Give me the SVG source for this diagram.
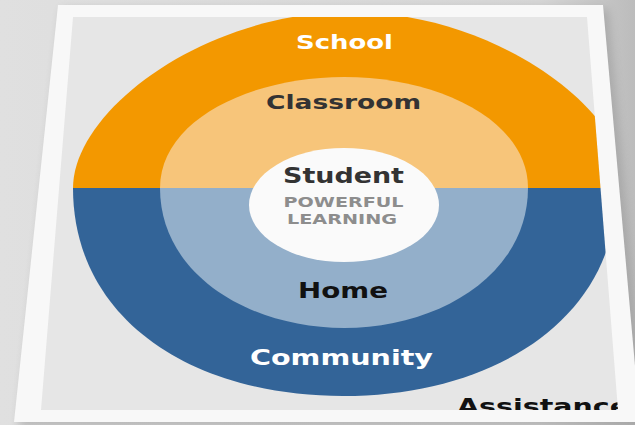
<svg xmlns="http://www.w3.org/2000/svg" width="635" height="425" viewBox="0 0 635 425">
  <defs>
    <linearGradient id="bg" x1="0" y1="0" x2="1" y2="0">
      <stop offset="0" stop-color="#e0e0e0"/>
      <stop offset="0.85" stop-color="#d6d6d6"/>
      <stop offset="1" stop-color="#bcbcbc"/>
    </linearGradient>
    <filter id="shadow" x="-10%" y="-10%" width="120%" height="120%">
      <feGaussianBlur stdDeviation="5"/>
    </filter>
    <clipPath id="panelClip">
      <polygon points="73,17 587,17 618,410 41,410"/>
    </clipPath>
    <clipPath id="upper">
      <rect x="0" y="0" width="635" height="188"/>
    </clipPath>
    <clipPath id="lower">
      <rect x="0" y="188" width="635" height="237"/>
    </clipPath>
    <style>
      .t { font-family: "DejaVu Sans", Verdana, "Liberation Sans", sans-serif; font-weight: bold; text-anchor: middle; }
      .w { fill: #ffffff; }
      .dk { fill: #333333; }
      .gr { fill: #8d8d8d; }
    </style>
  </defs>

  <rect x="0" y="0" width="635" height="425" fill="url(#bg)"/>

  <!-- card -->
  <polygon points="62,9 608,9 646,428 18,428" fill="#8a8a8a" opacity="0.45" filter="url(#shadow)"/>
  <polygon points="58,5 603,5 640,422 14,422" fill="#f8f8f8"/>
  <polygon points="73,17 587,17 618,410 41,410" fill="#e6e6e6"/>

  <g clip-path="url(#panelClip)">
    <g id="school">
      <path clip-path="url(#upper)" d="M73,188 C73,110 205,12 350,12 C495,12 627,110 627,188 L627,200 L73,200 Z" fill="#f39800"/>
      <text class="t w" x="344.5" y="49" font-size="20" textLength="97" lengthAdjust="spacingAndGlyphs">School</text>
    </g>
    <g id="community">
      <path clip-path="url(#lower)" d="M73,180 L73,188 C73,318 190,396 343,396 C495,396 617,318 617,188 L617,180 Z" fill="#336498"/>
      <text class="t w" x="341.5" y="365" font-size="22" textLength="183" lengthAdjust="spacingAndGlyphs">Community</text>
    </g>
    <g id="classroom">
      <path clip-path="url(#upper)" d="M160,188 C160,120 250,77 344,77 C438,77 528,120 528,188 L528,195 L160,195 Z" fill="#f7c57a"/>
      <text class="t dk" x="343.5" y="109" font-size="20" textLength="155" lengthAdjust="spacingAndGlyphs">Classroom</text>
    </g>
    <g id="home">
      <path clip-path="url(#lower)" d="M160,180 L160,188 C160,275 250,328 344,328 C438,328 528,275 528,188 L528,180 Z" fill="#93afca"/>
      <text class="t" x="343" y="298" font-size="21" fill="#111111" textLength="90" lengthAdjust="spacingAndGlyphs">Home</text>
    </g>
    <g id="student">
      <ellipse cx="344" cy="205" rx="95" ry="57" fill="#fafafa"/>
      <text class="t dk" x="343.5" y="183" font-size="21" textLength="121" lengthAdjust="spacingAndGlyphs">Student</text>
      <text class="t gr" x="343.5" y="207" font-size="13.5" textLength="120" lengthAdjust="spacingAndGlyphs">POWERFUL</text>
      <text class="t gr" x="342" y="224" font-size="13.5" textLength="110" lengthAdjust="spacingAndGlyphs">LEARNING</text>
    </g>
    <g id="assistance">
      <text class="t" x="457" y="414" font-size="22" fill="#111111" style="text-anchor:start" textLength="172" lengthAdjust="spacingAndGlyphs">Assistance</text>
    </g>
  </g>
</svg>
